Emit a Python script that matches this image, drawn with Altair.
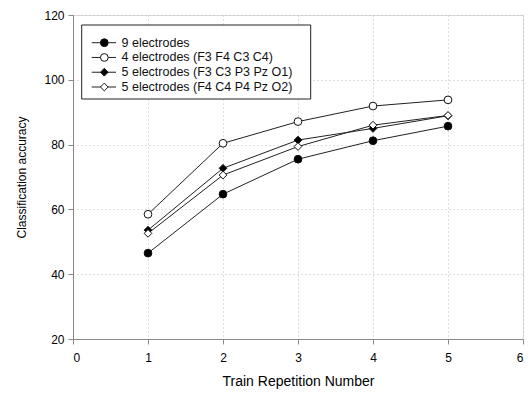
import altair as alt
import pandas as pd

reps = [1, 2, 3, 4, 5]
series_names = [
    "9 electrodes",
    "4 electrodes (F3 F4 C3 C4)",
    "5 electrodes (F3 C3 P3 Pz O1)",
    "5 electrodes (F4 C4 P4 Pz O2)",
]
acc_9 = [46.5, 64.7, 75.5, 81.2, 85.7]
acc_4 = [58.5, 80.4, 87.1, 91.9, 93.8]
acc_5a = [53.6, 72.7, 81.4, 85.0, 88.9]
acc_5b = [52.6, 70.6, 79.4, 86.0, 89.0]
shapes = ["circle", "circle", "diamond", "diamond"]
fills = ["black", "white", "black", "white"]
sizes = [60, 60, 80, 80]

rows = []
for name, vals in zip(series_names, [acc_9, acc_4, acc_5a, acc_5b]):
    for r, v in zip(reps, vals):
        rows.append({"series": name, "rep": r, "acc": v})
df = pd.DataFrame(rows)

leg_df = pd.DataFrame({"series": series_names, "idx": list(range(len(series_names)))})

FONT = "Liberation Sans"
shape_scale = alt.Scale(domain=series_names, range=shapes)
fill_scale = alt.Scale(domain=series_names, range=fills)
size_scale = alt.Scale(domain=series_names, range=sizes)

GRID = "#bdbdbd"
x_enc = alt.X("rep:Q", scale=alt.Scale(domain=[0, 6], nice=False),
              axis=alt.Axis(values=[0, 1, 2, 3, 4, 5, 6], title="Train Repetition Number",
                            format="d", labelPadding=8, titlePadding=11, grid=True,
                            gridColor=GRID, gridDash=[1, 3], gridWidth=1, gridOpacity=1,
                            titleFontWeight="normal", titleFontSize=14, labelFontSize=12))
y_enc = alt.Y("acc:Q", scale=alt.Scale(domain=[20, 120], nice=False),
              axis=alt.Axis(values=[20, 40, 60, 80, 100, 120], title="Classification accuracy",
                            labelPadding=4, titlePadding=15, grid=True,
                            gridColor=GRID, gridDash=[1, 3], gridWidth=1, gridOpacity=1,
                            titleFontWeight="normal", titleFontSize=12, labelFontSize=12))

lines = alt.Chart(df).mark_line(color="#222222", strokeWidth=1).encode(
    x=x_enc, y=y_enc, detail="series:N", order="rep:Q"
)
points = alt.Chart(df).mark_point(filled=False, stroke="#111111", strokeWidth=1, opacity=1).encode(
    x="rep:Q", y="acc:Q",
    shape=alt.Shape("series:N", scale=shape_scale, legend=None),
    fill=alt.Fill("series:N", scale=fill_scale, legend=None),
    size=alt.Size("series:N", scale=size_scale, legend=None),
)
main = alt.layer(lines, points)

leg_y = alt.Y("idx:Q", scale=alt.Scale(domain=[0, 3], range=[27.7, 72]), axis=None)
box = alt.Chart(pd.DataFrame({"a": [0]})).mark_rect(fill="white", stroke="#222222", strokeWidth=1).encode(
    x=alt.value(8.7), x2=alt.value(237.7), y=alt.value(10), y2=alt.value(84)
)
leg_lines = alt.Chart(leg_df).mark_rule(color="#222222", strokeWidth=1).encode(
    x=alt.value(18.7), x2=alt.value(43), y=leg_y
)
leg_pts = alt.Chart(leg_df).mark_point(filled=False, stroke="#111111", strokeWidth=1, opacity=1).encode(
    x=alt.value(31.3), y=leg_y,
    shape=alt.Shape("series:N", scale=shape_scale, legend=None),
    fill=alt.Fill("series:N", scale=fill_scale, legend=None),
    size=alt.Size("series:N", scale=size_scale, legend=None),
)
leg_text = alt.Chart(leg_df).mark_text(align="left", baseline="middle", font=FONT, fontSize=12.5, color="#111111").encode(
    x=alt.value(48.5), y=leg_y, text="series:N"
)
legend = alt.layer(box, leg_lines, leg_pts, leg_text)

chart = alt.layer(main, legend).resolve_scale(y="independent").properties(
    width=450, height=324,
    autosize=alt.AutoSizeParams(type="none"),
    padding={"left": 73, "top": 15, "right": 5, "bottom": 55},
).configure_view(stroke="#222222", strokeWidth=1).configure_axis(
    labelFont=FONT, titleFont=FONT,
    titleFontWeight="normal", labelColor="#111111", titleColor="#111111",
    domainColor="#222222", domainWidth=1.5, tickColor="#222222", tickSize=5, tickWidth=1.2,
).configure(background="white")

chart.save("out.html", embed_options={"renderer": "svg", "actions": False})
